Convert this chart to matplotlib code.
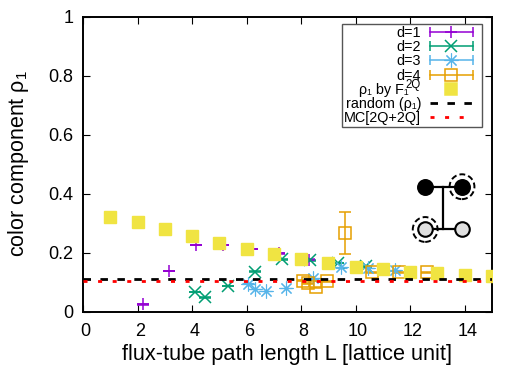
import matplotlib

matplotlib.use("Agg")
import matplotlib.pyplot as plt
from matplotlib.legend_handler import HandlerBase
from matplotlib.lines import Line2D
from matplotlib.transforms import ScaledTranslation

plt.rcParams["font.family"] = ["Liberation Sans", "DejaVu Sans"]
plt.rcParams["mathtext.fontset"] = "custom"
plt.rcParams["mathtext.rm"] = "Liberation Sans"
plt.rcParams["mathtext.default"] = "regular"

# valores
x_d1 = [2.2, 3.15, 4.13, 5.13, 6.2, 7.2, 8.3]
y_d1 = [0.024, 0.137, 0.225, 0.225, 0.212, 0.197, 0.176]
x_d2 = [4.1, 4.46, 5.3, 6.3, 7.3, 8.32, 9.35, 10.37]
y_d2 = [0.066, 0.048, 0.086, 0.135, 0.177, 0.173, 0.164, 0.153]
x_d3 = [6.06, 6.3, 6.7, 7.46, 8.43, 9.45, 10.45, 11.46]
y_d3 = [0.094, 0.076, 0.069, 0.079, 0.112, 0.15, 0.148, 0.139]
x_d4 = [8.08, 8.24, 8.54, 8.95, 9.62, 10.6, 11.6, 12.62]
y_d4 = [0.105, 0.096, 0.082, 0.102, 0.266, 0.133, 0.133, 0.133]
err_d4 = [0.002, 0.002, 0.002, 0.002, 0.07, 0.002, 0.002, 0.002]
x_f1 = [1, 2, 3, 4, 5, 6, 7, 8, 9, 10, 11, 12, 13, 14, 15]
y_f1 = [0.32, 0.302, 0.279, 0.255, 0.232, 0.211, 0.194, 0.177,
        0.163, 0.152, 0.143, 0.134, 0.129, 0.125, 0.121]
random_rho = 0.1105
mc_rho = 0.105
xticks = list(range(0, 16, 2))
yticks = [0, 0.2, 0.4, 0.6, 0.8, 1]
ytick_labels = ["0", "0.2", "0.4", "0.6", "0.8", "1"]

# diagrama de quarks
diag_left, diag_mid, diag_right = 12.55, 13.2, 13.9
diag_top, diag_bottom = 0.423, 0.278

DASH_NEGRO = (2.7, 3.4)
DASH_ROJO = (1.45, 3.8)
STAR = (8, 2, 0)


class HandlerFila(HandlerBase):
    """Entrada de leyenda estilo gnuplot: barra horizontal con topes y marcador."""

    def create_artists(self, legend, orig, xdescent, ydescent, width, height, fontsize, trans):
        w = width * 0.86
        y = height / 2 - ydescent
        color = orig.get_color()
        artists = []
        if orig.get_gid() == "barra":
            artists.append(Line2D([0, w], [y, y], color=color, lw=1.1, transform=trans))
            artists.append(Line2D([0], [y], color=color, marker="|", ms=6.5, mew=1.1, transform=trans))
            artists.append(Line2D([w], [y], color=color, marker="|", ms=6.5, mew=1.1, transform=trans))
        if orig.get_gid() == "dash":
            dashes = DASH_NEGRO if color == "black" else DASH_ROJO
            artists.append(Line2D([0, w], [y, y], color=color, lw=2, dashes=dashes, transform=trans))
        else:
            artists.append(Line2D([w / 2], [y], ls="none", marker=orig.get_marker(), ms=orig.get_markersize(),
                                  color=color, mfc=orig.get_markerfacecolor(), mew=orig.get_markeredgewidth(),
                                  transform=trans))
        return artists


fig = plt.figure(figsize=(5.23, 3.66), dpi=100)
ax = fig.add_axes([83 / 523, 1 - 311.5 / 366, 409 / 523, 295 / 366])

estilo = dict(ls="none", elinewidth=1.1, capsize=4, capthick=1.1, zorder=2)
ax.errorbar(x_d1, y_d1, yerr=0.001, color="#9400d3", marker="+", ms=8.5, markeredgewidth=1.1, **estilo)
ax.errorbar(x_d2, y_d2, yerr=0.001, color="#009e73", marker="x", ms=9, markeredgewidth=1.1, **estilo)
ax.errorbar(x_d3, y_d3, yerr=0.001, color="#56b4e9", marker=STAR, ms=10, markeredgewidth=0.8, **estilo)
ax.errorbar(x_d4, y_d4, yerr=err_d4, color="#e69f00", marker="s", ms=9, mfc="none", markeredgewidth=1.1, **estilo)
ax.plot(x_f1, y_f1, ls="none", marker="s", ms=8.5, color="#f0e442", mec="#f0e442", zorder=3)
ax.axhline(random_rho, color="black", lw=2, dashes=DASH_NEGRO, zorder=4)
ax.axhline(mc_rho, color="red", lw=2, dashes=DASH_ROJO, zorder=5)

# diagrama: lineas, circulos y anillos punteados
ax.plot([diag_left, diag_right], [diag_top, diag_top], color="black", lw=1.6, zorder=6)
ax.plot([diag_left, diag_right], [diag_bottom, diag_bottom], color="black", lw=1.6, zorder=6)
ax.plot([diag_mid, diag_mid], [diag_top, diag_bottom], color="black", lw=1.6, zorder=6)
ax.scatter([diag_left, diag_right], [diag_top, diag_top], s=125, color="black", zorder=7)
ax.scatter([diag_left, diag_right], [diag_bottom, diag_bottom], s=110, facecolor="#e0e0e0",
           edgecolor="black", linewidth=1.5, zorder=7)
ax.scatter([diag_right, diag_left], [diag_top, diag_bottom], s=320, facecolor="none",
           edgecolor="black", linewidth=1.4, linestyle=(0, (3, 1.6)), zorder=7)

ax.set_xlim(0, 15)
ax.set_ylim(0, 1)
ax.set_xticks(xticks)
ax.set_yticks(yticks)
ax.set_yticklabels(ytick_labels)
ax.tick_params(direction="in", top=True, right=True, length=5.3, width=0.8, labelsize=13)
ax.tick_params(axis="x", pad=8.5)
ax.tick_params(axis="y", pad=7)
for lab in ax.get_xticklabels():
    lab.set_transform(lab.get_transform() + ScaledTranslation(2.5 / 100, 0, fig.dpi_scale_trans))
for spine in ax.spines.values():
    spine.set_linewidth(1.4)
ax.set_xlabel("flux-tube path length L [lattice unit]", fontsize=15.7, labelpad=3)
ax.set_ylabel("color component ρ$_1$", fontsize=15.5, labelpad=12)

# proxies de la leyenda
proxies = [
    Line2D([], [], color="#9400d3", marker="+", ms=8.5, mew=1.1, gid="barra"),
    Line2D([], [], color="#009e73", marker="x", ms=9, mew=1.1, gid="barra"),
    Line2D([], [], color="#56b4e9", marker=STAR, ms=10, mew=0.8, gid="barra"),
    Line2D([], [], color="#e69f00", marker="s", ms=9, mfc="none", mew=1.1, gid="barra"),
    Line2D([], [], color="#f0e442", marker="s", ms=8.5, mew=1.1, ls="none"),
    Line2D([], [], color="black", gid="dash"),
    Line2D([], [], color="red", gid="dash"),
]
labels = ["d=1", "d=2", "d=3", "d=4", "ρ\u2081 by F\u2081\u00a0\u00a0\u00a0", "random (ρ\u2081)", "MC[2Q+2Q]"]

leg = ax.legend(proxies, labels, loc="upper right", bbox_to_anchor=(0.9756, 0.9746), bbox_transform=ax.transAxes,
                markerfirst=False, fontsize=10.4, labelspacing=0.01, handlelength=3.47, handletextpad=0.6,
                borderaxespad=0, borderpad=0.15, fancybox=False, framealpha=1, edgecolor="#555555",
                handler_map={Line2D: HandlerFila()})
leg.get_frame().set_linewidth(1.0)
leg.set_zorder(10)
# el superindice de F va aparte para no alterar la altura de la fila
ax.annotate("2Q", xy=(1, 1), xycoords=leg.get_texts()[4], xytext=(0, -1.5), textcoords="offset points",
            ha="right", va="center", fontsize=8.3, annotation_clip=False, zorder=11)

fig.savefig("out.png", dpi=100)
